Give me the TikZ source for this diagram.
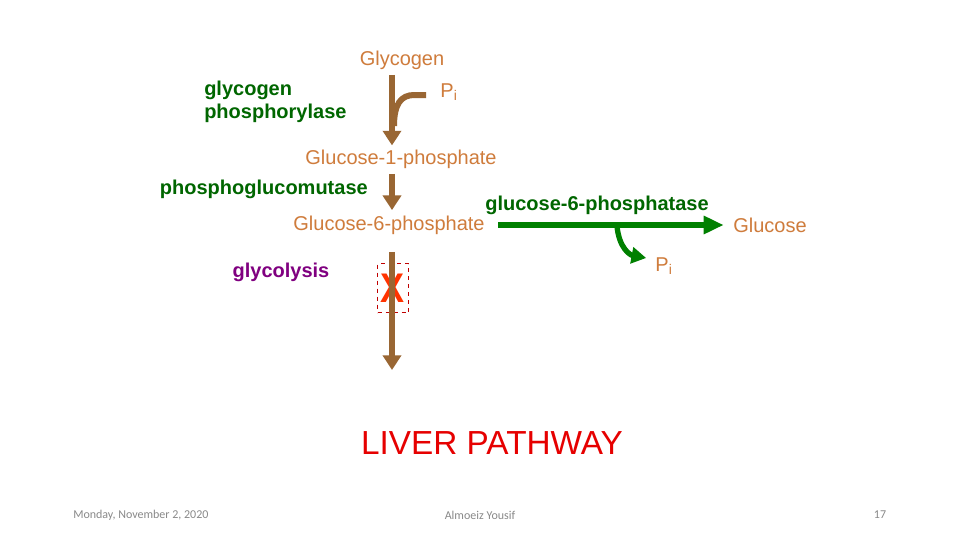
\documentclass[tikz,border=0pt]{standalone}
\usepackage{fontspec}
\setmainfont{Liberation Sans}
\newfontfamily\footfont{Carlito}
\usetikzlibrary{arrows.meta, positioning, calc}
\definecolor{sugar}{RGB}{207,124,60}
\definecolor{brn}{RGB}{153,102,51}
\definecolor{enz}{RGB}{0,102,0}
\definecolor{grnarr}{RGB}{0,128,0}
\definecolor{glyc}{RGB}{128,0,128}
\definecolor{liver}{RGB}{230,0,0}
\definecolor{xred}{RGB}{255,51,0}
\definecolor{dashred}{RGB}{192,0,0}
\definecolor{foot}{RGB}{137,137,137}
\tikzset{
  met/.style={inner sep=0pt, text=sugar, font=\fontsize{15}{18}\selectfont},
  enzyme/.style={inner sep=0pt, text=enz, align=left,
                 font=\fontsize{15}{17.25}\selectfont\bfseries},
  brarr/.style={draw=brn, line width=4.5pt,
                -{Triangle[length=11pt, width=13.5pt]}},
  brline/.style={draw=brn, line width=4.5pt},
  grarr/.style={draw=grnarr, line width=4.5pt,
                -{Triangle[length=15pt, width=13pt]}},
  grcurve/.style={draw=grnarr, line width=4pt,
                  -{Triangle[length=11pt, width=12pt]}},
  footer/.style={inner sep=0pt, text=foot, font=\footfont\fontsize{9}{11}\selectfont},
}

\begin{document}
\begin{tikzpicture}[x=0.75pt, y=-0.75pt,
  blocked/.style={draw=dashred, dashed, thin, inner sep=0pt,
                  minimum width=23.25pt, minimum height=36.75pt,
                  text=xred, font=\fontsize{27}{30}\selectfont\bfseries},
  title/.style={inner sep=0pt, text=liver, font=\fontsize{25}{29}\selectfont},
]
  \useasboundingbox[fill=white] (0,0) rectangle (960,540);
  \coordinate (col) at (392,0);

  % metabolites
  \node[met] (glycogen) at (402,60) {Glycogen};
  \node[met] (pi1) at (449,92) {P\textsubscript{i}};
  \node[met] (g1p) at (401,159) {Glucose-1-phosphate};
  \node[met] (g6p) at (389,225) {Glucose-6-phosphate};
  \node[met, anchor=west] (glc) at (733,225) {Glucose};
  \node[met] (pi2) at (664,266) {P\textsubscript{i}};

  % enzymes
  \node[enzyme, anchor=west] (phos) at (204,102) {glycogen\\phosphorylase};
  \node[enzyme, anchor=east] (pgm) at (368,189) {phosphoglucomutase};
  \node[enzyme] (g6pase) at (597,205) {glucose-6-phosphatase};
  \node[enzyme, text=glyc] (glycol) at (281,272) {glycolysis};

  \node[blocked] (block) at (393,288) {\scalebox{1}[1.15]{X}};
  \coordinate (glyend) at (392,370);

  \node[title] (liver) at (492,443) {LIVER PATHWAY};

  \node[footer, anchor=west] (date) at (73,515) {Monday, November 2, 2020};
  \node[footer] (author) at (480,515) {Almoeiz Yousif};
  \node[footer] (page) at (880,515) {17};

  % arrows
  \draw[brarr, shorten <=4pt, shorten >=3pt] (glycogen.south -| col) -- (g1p.north -| col);
  \draw[brline] ($(pi1.west)+(-14,3)$) -- ++(-12,0)
    .. controls (401,95) and (394,104) .. (394,126);
  \draw[brarr, shorten <=4pt, shorten >=4pt] (g1p.south -| col) -- (g6p.north -| col);
  \draw[brarr, shorten <=13pt] (g6p.south -| col) -- (glyend);
  \draw[grarr, shorten <=10pt, shorten >=7pt] (g6p.east) -- (glc.west);
  \coordinate (split) at (617,226);
  \draw[grcurve] (split) .. controls (619,248) and (630,255) .. ($(pi2.west)+(-9,-8)$);
\end{tikzpicture}
\end{document}
